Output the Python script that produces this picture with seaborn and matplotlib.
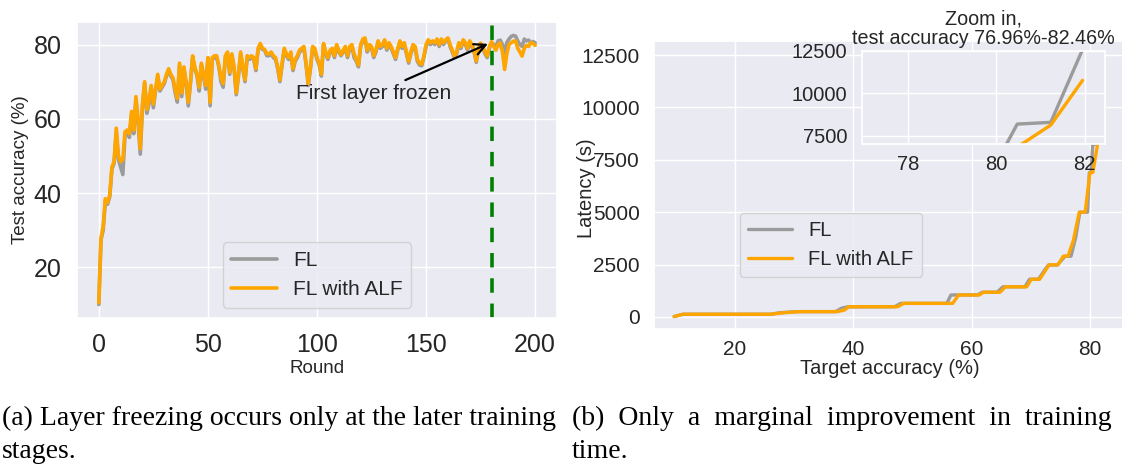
import numpy as np
import pandas as pd
import matplotlib
matplotlib.use("Agg")
import matplotlib.pyplot as plt
import seaborn as sns

# ---------------- data ----------------
rounds = list(range(0, 201))

fl_acc = [
    10.0, 27.5, 30.0, 38.0, 37.0, 39.0, 46.5, 48.0, 56.5, 49.0,
    47.0, 45.0, 55.5, 56.5, 55.0, 61.0, 56.0, 65.0, 59.0, 50.5,
    63.0, 69.5, 61.5, 64.0, 68.5, 63.0, 67.5, 71.5, 67.5, 68.5,
    69.5, 71.5, 73.0, 71.5, 70.5, 67.0, 64.5, 74.5, 66.0, 73.5,
    69.5, 63.5, 69.5, 76.5, 73.5, 71.5, 67.5, 74.5, 71.5, 68.0,
    76.0, 63.5, 76.0, 76.5, 76.5, 74.0, 70.0, 68.5, 76.5, 77.5,
    72.0, 77.0, 73.5, 66.5, 71.5, 77.5, 73.5, 70.0, 76.5, 76.0,
    76.5, 76.0, 73.0, 78.5, 80.0, 78.7, 78.5, 77.0, 77.0, 77.5,
    76.5, 76.0, 73.5, 70.0, 74.5, 78.5, 77.0, 76.0, 77.5, 73.0,
    75.5, 76.5, 78.0, 78.5, 79.0, 74.5, 69.0, 73.5, 79.0, 78.5,
    76.0, 74.5, 71.5, 80.0, 77.5, 76.0, 78.0, 78.5, 76.5, 79.5,
    78.0, 77.0, 78.0, 79.0, 76.5, 79.0, 79.5, 76.5, 75.5, 74.0,
    79.5, 81.0, 81.5, 78.0, 79.5, 79.0, 76.5, 78.0, 80.5, 79.0,
    79.5, 81.0, 78.5, 80.0, 79.0, 77.5, 76.0, 78.5, 80.5, 79.0,
    80.0, 77.5, 75.0, 77.5, 79.5, 79.0, 75.5, 74.5, 74.3, 76.5,
    79.5, 81.0, 80.0, 80.5, 80.0, 81.0, 79.5, 81.0, 80.0, 81.0,
    81.5, 79.5, 78.0, 76.5, 77.5, 80.0, 79.0, 81.0, 80.0, 78.5,
    80.5, 79.5, 78.0, 75.2, 78.5, 80.0, 79.0, 77.5, 76.5, 79.0,
    80.5, 80.0, 79.5, 81.0, 81.2, 80.0, 77.5, 80.5, 81.5, 82.2,
    82.46, 82.3, 81.0, 80.0, 79.5, 81.5, 81.0, 81.2, 80.5, 80.8,
    80.5]

alf_acc = [
    10.5, 28.0, 31.0, 38.5, 37.5, 39.5, 47.0, 48.5, 57.5, 50.0,
    48.5, 49.0, 56.5, 57.0, 56.0, 62.0, 57.0, 66.0, 60.0, 52.0,
    64.0, 70.0, 62.5, 65.0, 69.0, 64.0, 68.0, 72.0, 68.0, 69.0,
    70.0, 72.0, 73.5, 72.0, 71.0, 68.0, 65.5, 75.0, 67.0, 74.0,
    70.0, 64.5, 70.0, 77.0, 74.0, 72.0, 68.5, 75.0, 72.0, 69.0,
    76.5, 64.5, 76.5, 77.0, 77.0, 74.5, 71.0, 69.5, 77.0, 78.0,
    72.5, 77.5, 74.0, 67.0, 72.0, 78.0, 74.0, 70.5, 77.0, 76.5,
    77.0, 76.5, 73.5, 79.0, 80.3, 79.0, 78.7, 77.5, 77.5, 78.0,
    77.0, 76.5, 74.0, 70.5, 75.0, 79.0, 77.5, 76.5, 78.0, 73.5,
    76.0, 77.0, 78.5, 79.0, 79.5, 75.0, 69.5, 74.0, 79.5, 79.0,
    76.5, 75.0, 72.0, 80.3, 78.0, 76.5, 78.5, 79.0, 77.0, 80.0,
    78.5, 77.3, 78.5, 79.5, 77.0, 79.5, 80.0, 77.5, 76.0, 74.5,
    80.0, 81.5, 81.8, 78.5, 80.0, 79.5, 77.0, 78.5, 81.0, 79.5,
    80.0, 81.3, 79.0, 80.5, 79.5, 78.0, 76.5, 79.0, 81.0, 79.5,
    80.5, 78.0, 75.5, 78.0, 80.0, 79.5, 76.0, 75.0, 74.7, 77.0,
    80.0, 81.3, 80.5, 81.0, 80.5, 81.5, 80.0, 81.5, 80.5, 81.3,
    81.8, 80.0, 78.5, 76.9, 78.0, 80.5, 79.5, 81.3, 80.5, 79.0,
    81.0, 80.0, 78.5, 75.6, 79.0, 80.4, 79.5, 78.0, 76.9, 79.5,
    80.8, 79.5, 78.5, 80.0, 80.4, 78.0, 73.3, 77.5, 80.0, 80.5,
    80.9, 81.0, 79.0, 78.0, 76.9, 79.0, 79.8, 79.5, 80.5, 80.3,
    79.8]

freeze_round = 180

fl_target = [9.7, 11.2, 26.0, 27.5, 29.5, 31.0, 37.0, 38.0, 39.0, 47.0, 48.0,
             55.8, 56.5, 61.0, 61.8, 64.3, 65.3, 69.0, 69.8, 71.3, 72.5, 73.0,
             74.5, 75.8, 76.8, 77.6, 78.3, 79.6, 79.9, 80.2, 80.47, 81.23, 81.95]
fl_latency = [20, 130, 130, 200, 240, 255, 255, 420, 480, 490, 650,
              650, 1050, 1050, 1180, 1180, 1440, 1440, 1800, 1800, 2300, 2480,
              2480, 2900, 2900, 3800, 5000, 5000, 6880, 6900, 8198, 8300, 12560]

alf_target = [9.7, 11.2, 26.0, 27.5, 29.5, 31.0, 37.3, 38.5, 39.2, 47.5, 48.5,
              56.8, 57.8, 61.3, 62.0, 64.8, 65.7, 69.3, 70.1, 71.5, 73.1, 74.6,
              75.5, 76.3, 77.2, 78.2, 79.2, 80.0, 80.5, 81.23, 81.95]
alf_latency = [20, 130, 130, 180, 230, 255, 255, 330, 490, 490, 650,
               650, 1050, 1050, 1180, 1180, 1440, 1440, 1800, 1800, 2490, 2490,
               2900, 2900, 3650, 5000, 5000, 6880, 6900, 8140, 10756]

series_labels = ["FL", "FL with ALF"]
colors = ["#9b9b9b", "#ffa500"]

# ---------------- style ----------------
sns.set_theme(style="darkgrid")
plt.rcParams["font.family"] = ["Liberation Sans", "DejaVu Sans"]
plt.rcParams["axes.edgecolor"] = "white"

fig = plt.figure(figsize=(11.22, 4.71), dpi=100)

# ---------------- left panel ----------------
ax1 = fig.add_axes([77 / 1122, 1 - 318 / 471, 480 / 1122, 296 / 471])
df_left = pd.DataFrame({"Round": rounds + rounds,
                        "acc": fl_acc + alf_acc,
                        "series": [series_labels[0]] * len(rounds) + [series_labels[1]] * len(rounds)})
sns.lineplot(data=df_left, x="Round", y="acc", hue="series",
             palette=dict(zip(series_labels, colors)), linewidth=2.6,
             estimator=None, ax=ax1)
ax1.axvline(freeze_round, color="green", linestyle=(0, (4, 3)), linewidth=2.6)
ax1.annotate("First layer frozen", xy=(179.5, 80.5), xytext=(126, 66.7),
             fontsize=15, ha="center", va="center", color="#262626",
             arrowprops=dict(arrowstyle="->", color="black", lw=1.6, mutation_scale=20))
ax1.set_xticks([0, 50, 100, 150, 200])
ax1.set_yticks([20, 40, 60, 80])
ax1.tick_params(axis="both", labelsize=18, pad=5)
ax1.set_xlabel("Round", fontsize=13.5, labelpad=2)
ax1.set_ylabel("Test accuracy (%)", fontsize=13.5)
ax1.yaxis.set_label_coords(-0.100, 0.5)
leg1 = ax1.legend(loc="lower center", fontsize=15, handlelength=2.2)
leg1.set_title(None)
for ln in leg1.get_lines():
    ln.set_linewidth(2.6)

# ---------------- right panel ----------------
ax2 = fig.add_axes([654 / 1122, 1 - 329.3 / 471, 472 / 1122, 288.7 / 471])
df_right = pd.DataFrame({"target": fl_target + alf_target,
                         "latency": fl_latency + alf_latency,
                         "series": [series_labels[0]] * len(fl_target) + [series_labels[1]] * len(alf_target)})
sns.lineplot(data=df_right, x="target", y="latency", hue="series",
             palette=dict(zip(series_labels, colors)), linewidth=2.4,
             estimator=None, sort=False, ax=ax2)
ax2.set_xlim(6.3, 86.1)
ax2.set_ylim(-588, 13188)
ax2.set_xticks([20, 40, 60, 80])
ax2.set_yticks([0, 2500, 5000, 7500, 10000, 12500])
ax2.tick_params(axis="x", labelsize=15, pad=2)
ax2.tick_params(axis="y", labelsize=15, pad=4)
ax2.set_xlabel("Target accuracy (%)", fontsize=14.5, labelpad=0)
ax2.set_ylabel("Latency (s)", fontsize=14.5)
ax2.yaxis.set_label_coords(-0.123, 0.49)
leg2 = ax2.legend(loc="lower left", bbox_to_anchor=(0.182, 0.182), borderaxespad=0,
                  fontsize=14.5, handlelength=2.2)
leg2.set_title(None)
for ln in leg2.get_lines():
    ln.set_linewidth(2.4)

# inset
axin = fig.add_axes([862.4 / 1122, 1 - 144 / 471, 242.6 / 1122, 93.3 / 471])
sns.lineplot(data=df_right, x="target", y="latency", hue="series",
             palette=dict(zip(series_labels, colors)), linewidth=2.4,
             estimator=None, sort=False, ax=axin, legend=False)
axin.set_xlim(76.96, 82.46)
axin.set_ylim(7030, 12500)
axin.set_xticks([78, 80, 82])
axin.set_yticks([7500, 10000, 12500])
axin.tick_params(axis="x", labelsize=14.5, pad=2)
axin.tick_params(axis="y", labelsize=14.5, pad=5)
axin.set_xlabel("")
axin.set_ylabel("")
axin.set_title("Zoom in,\ntest accuracy 76.96%-82.46%", fontsize=14.2, pad=5, linespacing=1.0)

# ---------------- captions ----------------
cap_font = dict(family="Liberation Serif", fontsize=20, color="black")
fig.text(0.002, 1 - 418 / 471, "(a) Layer freezing occurs only at the later training",
         va="center", ha="left", **cap_font)
fig.text(0.002, 1 - 452 / 471, "stages.", va="center", ha="left", **cap_font)
fig.text(572 / 1122, 1 - 418 / 471, "(b)  Only  a  marginal  improvement  in  training",
         va="center", ha="left", **cap_font)
fig.text(572 / 1122, 1 - 452 / 471, "time.", va="center", ha="left", **cap_font)

fig.savefig("out.png", dpi=100)
